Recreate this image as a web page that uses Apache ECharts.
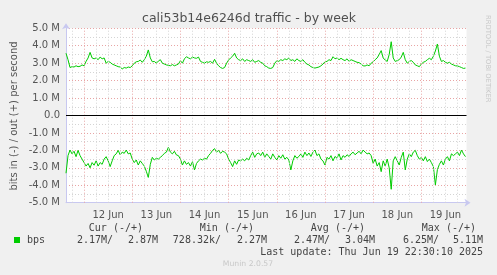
<!DOCTYPE html>
<html><head><meta charset="utf-8">
<script src="https://cdn.jsdelivr.net/npm/echarts@6/dist/echarts.min.js"></script>
<style>html,body{margin:0;padding:0;background:#F0F0F0;}#c{width:497px;height:275px;}</style>
</head><body><div id="c"></div>
<script>
// time axis: hours since Jun 11 00:00, one sample per hour from 15:00 Jun 11
const startHour = 15;
const stepHours = 1;
const endHour = 214.5;
// bits out (+), in millions
const outValues = [3.57,3.2,
2.75,2.8,2.78,2.85,2.8,2.82,2.9,2.85,
3.1,3.3,3.62,3.3,
3.25,3.3,3.2,3.35,3.25,3.3,
3.0,3.1,3.05,2.95,2.9,2.85,2.8,2.78,
2.67,2.75,2.72,2.78,2.75,
2.85,3.0,3.08,3.1,3.18,3.05,3.2,
3.4,3.76,3.3,3.08,3.1,3.0,3.12,
3.2,3.0,2.95,2.9,2.88,2.85,2.92,2.85,2.9,2.95,
3.14,3.0,3.25,3.37,3.3,3.25,3.35,3.3,3.28,3.35,
3.1,3.05,3.0,3.08,3.05,3.1,3.0,
3.22,3.0,2.85,2.75,2.7,2.75,
3.0,3.18,3.3,3.4,3.57,3.3,
3.2,3.15,3.25,3.1,3.2,3.15,3.1,3.2,3.05,3.1,3.15,
3.05,3.0,2.85,2.8,2.72,2.7,
2.75,3.0,3.14,3.1,3.2,3.15,3.25,3.2,3.3,3.15,3.2,3.1,3.25,3.15,3.1,3.2,3.05,
2.95,2.9,2.8,2.75,2.72,2.75,2.78,2.85,
2.95,3.08,3.1,3.2,3.15,3.37,3.25,3.3,3.2,3.28,3.2,3.15,3.25,3.1,3.2,3.15,3.1,
3.05,3.03,2.95,2.85,2.84,2.9,2.85,3.0,
3.08,3.2,3.3,3.5,3.72,3.3,3.18,3.1,3.5,4.23,3.3,3.1,3.15,3.2,3.35,3.62,3.2,3.0,3.1,3.15,3.05,2.9,2.85,2.8,
2.95,3.05,3.1,3.2,3.28,3.2,3.4,3.7,4.1,3.4,3.1,3.15,3.05,3.0,3.05,2.95,2.9,2.85,2.84,2.8,2.75,2.7,2.72];
// bits in (-), magnitudes in millions (drawn negated)
const inValues = [3.31,2.3,1.98,2.2,2.05,2.36,2.0,2.3,
2.5,2.7,2.9,2.75,3.0,2.7,2.85,2.6,2.9,2.7,2.8,
2.5,2.36,2.6,2.93,2.6,2.3,
2.2,2.0,2.26,2.1,2.17,1.98,2.2,2.15,
2.5,2.7,2.55,2.84,2.6,2.75,2.9,
3.2,3.55,2.8,2.4,2.55,2.45,2.5,2.4,
2.3,2.17,2.1,1.82,2.1,2.2,2.05,2.26,2.3,
2.5,2.84,2.6,2.8,2.7,2.9,2.65,3.12,2.75,2.6,
2.5,2.55,2.45,2.5,2.3,
2.17,2.0,1.9,2.1,2.0,2.17,2.05,2.1,2.2,
2.5,2.7,2.93,2.6,2.8,2.55,2.6,
2.5,2.6,2.45,2.55,
2.3,2.1,2.4,2.2,2.15,2.3,2.1,2.4,2.2,
2.35,2.5,2.2,2.4,2.55,2.3,2.45,2.25,2.5,2.4,2.55,
3.12,2.6,2.3,2.45,2.35,
2.2,2.4,2.1,2.3,2.15,2.35,2.1,1.98,
2.3,2.2,2.5,2.6,2.84,
2.4,2.5,2.3,2.6,2.35,2.45,2.2,2.55,2.3,2.4,2.25,2.35,
2.2,2.1,2.25,2.15,2.05,2.2,1.98,2.1,2.2,2.15,2.3,
2.74,2.5,2.9,2.7,3.22,2.6,2.9,2.5,3.0,
4.23,2.6,2.36,2.6,2.84,2.4,2.1,3.12,2.5,2.2,
2.36,2.1,2.0,2.3,2.5,2.4,2.6,2.36,2.64,
2.5,2.7,2.93,3.98,3.1,2.8,
2.6,2.84,2.5,2.36,2.6,2.2,2.3,2.2,2.1,2.3,1.98,2.2,2.36];
const dayLabels = ['12 Jun','13 Jun','14 Jun','15 Jun','16 Jun','17 Jun','18 Jun','19 Jun'];
const dayLabelHours = [36,60,84,108,132,156,180,204];
const yTicks = [-5,-4,-3,-2,-1,0,1,2,3,4,5];
const statHeaders = ['Cur (-/+)','Min (-/+)','Avg (-/+)','Max (-/+)'];
const statIn = ['2.17M/','728.32k/','2.47M/','6.25M/'];
const statOut = ['2.87M','2.27M','3.04M','5.11M'];
const seriesName = 'bps';
const titleText = 'cali53b14e6246d traffic - by week';
const yName = 'bits in (-) / out (+) per second';
const lastUpdate = 'Last update: Thu Jun 19 22:30:10 2025';

const outData = outValues.map((v,i)=>[startHour+i*stepHours, v*1e6]);
const inData = inValues.map((v,i)=>[startHour+i*stepHours, -v*1e6]);
const vLines = [];
for (let h = Math.ceil(startHour/6)*6; h <= endHour; h += 6) vLines.push(h);
const minorStyle = {color:'#D4D4D4', type:[1,2], width:1};
const majorStyle = {color:'#E8A4A4', type:[1,2], width:1};
const gridMarks = vLines.map(h => ({xAxis:h, lineStyle: (h%24===0)? majorStyle : minorStyle}));
gridMarks.push({yAxis:0, lineStyle:{color:'#000', type:'solid', width:1}});

const chart = echarts.init(document.getElementById('c'), null, {renderer:'canvas'});
const mono = '10px "DejaVu Sans Mono"';
const txt = '#444';
const graphics = [
  {type:'text', x:249, y:19, style:{text:titleText, font:'12.5px "DejaVu Sans"', fill:'#505050', textAlign:'center', textVerticalAlign:'middle'}},
  {type:'text', x:14, y:116, rotation:Math.PI/2, style:{text:yName, font:'10px "DejaVu Sans"', fill:'#555', textAlign:'center', textVerticalAlign:'middle'}},
  {type:'text', x:488, y:15, rotation:-Math.PI/2, style:{text:'RRDTOOL / TOBI OETIKER', font:'6.8px "DejaVu Sans"', fill:'#C8C8C8', textAlign:'left', textVerticalAlign:'middle'}},
  {type:'rect', shape:{x:14, y:237, width:6, height:6}, style:{fill:'#00CC00'}},
  {type:'text', x:27, y:240, style:{text:seriesName, font:mono, fill:txt, textAlign:'left', textVerticalAlign:'middle'}},
  {type:'text', x:483, y:252, style:{text:lastUpdate, font:mono, fill:txt, textAlign:'right', textVerticalAlign:'middle'}},
  {type:'text', x:248, y:264, style:{text:'Munin 2.0.57', font:'7.7px "DejaVu Sans"', fill:'#C8C8C8', textAlign:'center', textVerticalAlign:'middle'}}
];
const hdrRight = [143,254,365,476], inRight = [113,221,330,439], outRight = [158,267,375,483];
statHeaders.forEach((t,k)=>{
  graphics.push({type:'text', x:hdrRight[k], y:228, style:{text:t, font:mono, fill:txt, textAlign:'right', textVerticalAlign:'middle'}});
  graphics.push({type:'text', x:inRight[k], y:240, style:{text:statIn[k], font:mono, fill:txt, textAlign:'right', textVerticalAlign:'middle'}});
  graphics.push({type:'text', x:outRight[k], y:240, style:{text:statOut[k], font:mono, fill:txt, textAlign:'right', textVerticalAlign:'middle'}});
});

chart.setOption({
  backgroundColor:'#F0F0F0',
  animation:false,
  grid:{left:66, right:30.5, top:28.3, bottom:72.3, show:true, backgroundColor:'#FFFFFF', borderWidth:0},
  xAxis:{type:'value', min:startHour, max:endHour,
    axisLine:{onZero:false, lineStyle:{color:'#C8C8F0', width:1}, symbol:['none','arrow'], symbolSize:[6,6], symbolOffset:[0,4]},
    axisTick:{show:false}, splitLine:{show:false},
    axisLabel:{customValues:dayLabelHours, formatter:(v)=>{const k=dayLabelHours.indexOf(v); return k>=0?dayLabels[k]:'';}, color:'#555', fontSize:10, fontFamily:'DejaVu Sans', margin:8}},
  yAxis:{type:'value', min:-5e6, max:5e6, interval:1e6,
    axisLine:{show:true, onZero:false, lineStyle:{color:'#C8C8F0', width:1}, symbol:['none','arrow'], symbolSize:[6,6], symbolOffset:[0,5]},
    axisTick:{show:false},
    splitLine:{show:true, lineStyle:majorStyle},
    minorTick:{show:false, splitNumber:2},
    minorSplitLine:{show:true, lineStyle:minorStyle},
    axisLabel:{formatter:(v)=> v===0 ? '0.0' : (v/1e6).toFixed(1)+' M', color:'#555', fontSize:10, fontFamily:'DejaVu Sans', margin:6}},
  graphic:graphics,
  series:[
    {type:'line', data:[], z:1, silent:true, markLine:{silent:true, symbol:['none','none'], label:{show:false}, data:gridMarks, animation:false}},
    {type:'line', name:'out', data:outData, showSymbol:false, z:3, lineStyle:{color:'#00CC00', width:1}, itemStyle:{color:'#00CC00'}},
    {type:'line', name:'in', data:inData, showSymbol:false, z:3, lineStyle:{color:'#00CC00', width:1}, itemStyle:{color:'#00CC00'}}
  ]
});
</script></body></html>
